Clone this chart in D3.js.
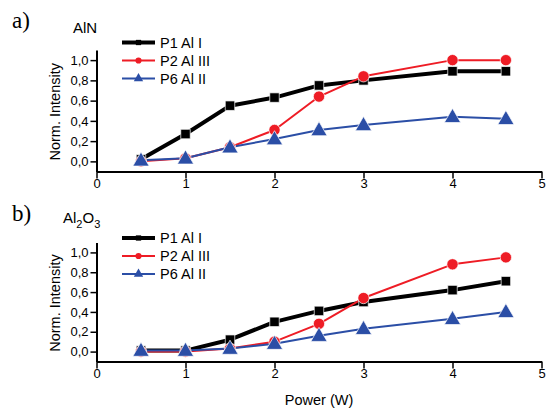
<!DOCTYPE html>
<html><head><meta charset="utf-8">
<script src="https://cdn.jsdelivr.net/npm/d3@7"></script>
<style>body{margin:0;background:#fff}svg{display:block}</style>
</head><body>
<svg id="c" width="546" height="408"></svg>
<script>
const powers = [0.5, 1, 1.5, 2, 2.5, 3, 4, 4.6];
const seriesNames = ["P1 Al I", "P2 Al III", "P6 Al II"];
const alnP1 = [0.02, 0.27, 0.55, 0.63, 0.75, 0.80, 0.89, 0.89];
const alnP2 = [0.00, 0.03, 0.14, 0.31, 0.64, 0.84, 1.00, 1.00];
const alnP6 = [0.01, 0.03, 0.14, 0.22, 0.31, 0.36, 0.44, 0.42];
const aloP1 = [0.01, 0.01, 0.12, 0.30, 0.41, 0.50, 0.62, 0.71];
const aloP2 = [0.00, 0.00, 0.03, 0.10, 0.28, 0.54, 0.88, 0.95];
const aloP6 = [0.01, 0.01, 0.03, 0.08, 0.16, 0.23, 0.33, 0.40];
const xTicks = [0, 1, 2, 3, 4, 5];
const yTicks = [0, 0.2, 0.4, 0.6, 0.8, 1.0];

const colors = ["#000000", "#ee1c25", "#2b4ea6"];
const widths = [4, 2, 2];
const shapes = [d3.symbolSquare, d3.symbolCircle, d3.symbolTriangle];
const sizes = [90, 100, 115];
const legSizes = [28, 30, 38];
const SANS = "Liberation Sans, Arial, sans-serif";
const SERIF = "Liberation Serif, Times New Roman, serif";

const svg = d3.select("#c");
const x = d3.scaleLinear().domain([0, 5]).range([96.5, 541.5]);
const fmt = v => d3.format(".1f")(v).replace(".", ",");

function panel(top, bottom, label, titleFn, data, legY) {
  const y = d3.scaleLinear().domain([-0.1, 1.1]).range([bottom, top]);
  const g = svg.append("g");
  const xa = g.append("g").attr("transform", `translate(0,${bottom})`);
  xa.call(d3.axisBottom(x).tickValues(d3.range(0, 5.01, 0.5)).tickSize(4).tickFormat(""))
    .call(s => s.select(".domain").remove());
  xa.call(d3.axisBottom(x).tickValues(xTicks).tickSize(7).tickSizeOuter(0).tickFormat(d3.format("d")))
    .call(s => s.select(".domain").attr("stroke-width", 2))
    .call(s => s.selectAll("text").attr("font-family", SANS).attr("font-size", 13).attr("dy", "0.5em").attr("fill", "#000"));
  xa.selectAll("line").attr("stroke-width", 1.5);
  const ya = g.append("g").attr("transform", `translate(${x(0)},0)`);
  ya.call(d3.axisLeft(y).tickValues(d3.range(-0.1, 1.11, 0.1)).tickSize(3).tickFormat(""))
    .call(s => s.select(".domain").remove());
  ya.call(d3.axisLeft(y).tickValues(yTicks).tickSize(6).tickSizeOuter(0).tickFormat(fmt))
    .call(s => s.select(".domain").attr("stroke-width", 2))
    .call(s => s.selectAll("text").attr("font-family", SANS).attr("font-size", 13).attr("x", -8).attr("fill", "#000"));
  ya.selectAll("line").attr("stroke-width", 1.5);
  g.append("text").attr("transform", `translate(60,${(top + bottom) / 2 + 1}) rotate(-90)`)
    .attr("text-anchor", "middle").attr("font-family", SANS).attr("font-size", 14.5)
    .text("Norm. Intensity");
  g.append("text").attr("x", 12).attr("y", top - 22).attr("font-family", SERIF)
    .attr("font-size", 23).text(label);
  titleFn(g, top);
  const line = d3.line().x((d, i) => x(powers[i])).y(d => y(d));
  data.forEach((vals, k) => {
    g.append("path").datum(vals).attr("d", line).attr("fill", "none")
      .attr("stroke", colors[k]).attr("stroke-width", widths[k]).attr("stroke-linejoin", "round");
  });
  data.forEach((vals, k) => {
    g.selectAll(null).data(vals).enter().append("path")
      .attr("d", d3.symbol().type(shapes[k]).size(sizes[k]))
      .attr("transform", (d, i) => `translate(${x(powers[i])},${y(d) + (k === 2 ? 1 : 0)})`)
      .attr("fill", colors[k]).attr("stroke", "#fff").attr("stroke-width", 0.7);
  });
  seriesNames.forEach((n, k) => {
    const ly = legY + k * 18;
    g.append("line").attr("x1", 122).attr("x2", 155).attr("y1", ly).attr("y2", ly)
      .attr("stroke", colors[k]).attr("stroke-width", widths[k]);
    g.append("path").attr("d", d3.symbol().type(shapes[k]).size(legSizes[k]))
      .attr("transform", `translate(138.5,${ly})`).attr("fill", colors[k]);
    g.append("text").attr("x", 160).attr("y", ly).attr("dy", "0.36em")
      .attr("font-family", SANS).attr("font-size", 14.5).text(n);
  });
}

panel(50, 171.5, "a)", (g, top) => {
  g.append("text").attr("x", 73).attr("y", 33).attr("font-family", SANS)
    .attr("font-size", 15).text("AlN");
}, [alnP1, alnP2, alnP6], 42.5);

panel(242.5, 361.5, "b)", (g, top) => {
  const t = g.append("text").attr("x", 63).attr("y", 223).attr("font-family", SANS).attr("font-size", 15);
  t.append("tspan").text("Al");
  t.append("tspan").attr("font-size", 11).attr("dy", 5).text("2");
  t.append("tspan").attr("dy", -5).text("O");
  t.append("tspan").attr("font-size", 11).attr("dy", 5).text("3");
}, [aloP1, aloP2, aloP6], 238);

svg.append("text").attr("x", 319).attr("y", 405).attr("text-anchor", "middle")
  .attr("font-family", SANS).attr("font-size", 14.5).text("Power (W)");
</script>
</body></html>
